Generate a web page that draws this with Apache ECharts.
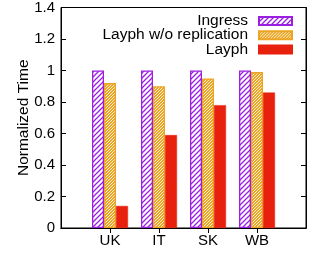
<!DOCTYPE html>
<html>
<head>
<meta charset="UTF-8">
<title>normalized time</title>
<style>html,body{margin:0;padding:0;background:#fff;}</style>
</head>
<body>
<div id="chart" style="width:316px;height:259px"></div>
<script src="https://cdn.jsdelivr.net/npm/echarts@6/dist/echarts.min.js"></script>
<script>
// data
var categories = ['', 'UK', 'IT', 'SK', 'WB', ''];
var ingress = ['-', 1, 1, 1, 1, '-'];
var noRepl = ['-', 0.92, 0.90, 0.95, 0.99, '-'];
var layph = ['-', 0.14, 0.59, 0.78, 0.86, '-'];
var yTicks = [0, 0.2, 0.4, 0.6, 0.8, 1, 1.2, 1.4];

// hatch patterns drawn on small canvases
function hatch() {
	var c = document.createElement('canvas');
	c.width = 5; c.height = 5;
	var g = c.getContext('2d');
	g.fillStyle = '#fff';
	g.fillRect(0, 0, 5, 5);
	g.strokeStyle = '#9b1fe0';
	g.lineWidth = 1.3;
	g.beginPath();
	g.moveTo(-1, 6); g.lineTo(6, -1);
	g.moveTo(-1, 1); g.lineTo(1, -1);
	g.moveTo(4, 6); g.lineTo(6, 4);
	g.stroke();
	return c;
}
function checker() {
	var c = document.createElement('canvas');
	c.width = 3; c.height = 3;
	var g = c.getContext('2d');
	g.fillStyle = '#eba522';
	g.fillRect(0, 0, 3, 3);
	g.fillStyle = '#fdf3dc';
	g.fillRect(0, 0, 1, 1);
	g.fillRect(2, 1, 1, 1);
	g.fillRect(1, 2, 1, 1);
	return c;
}

// only the real categories get tick marks
function realTick(i) { return i >= 1 && i <= 4; }

var font = 'Liberation Sans';
var chart = echarts.init(document.getElementById('chart'));
var option = {
	animation: false,
	textStyle: { fontFamily: font },
	grid: { left: 61, right: 10, top: 7, bottom: 31, show: true, borderColor: '#000', borderWidth: 1 },
	legend: {
		orient: 'vertical',
		right: 18,
		top: 8,
		align: 'right',
		icon: 'rect',
		itemWidth: 33,
		itemHeight: 8,
		itemGap: -1.8,
		textStyle: { fontSize: 15.5, color: '#000', fontFamily: font, padding: [0, 6, 0, 0] },
		data: ['Ingress', 'Layph w/o replication', 'Layph']
	},
	xAxis: [{
		type: 'category',
		data: categories,
		boundaryGap: false,
		axisLine: { lineStyle: { color: '#000' } },
		axisTick: { show: true, inside: true, length: 5, interval: realTick, lineStyle: { color: '#000' } },
		axisLabel: { color: '#000', fontSize: 15, margin: 5 }
	}, {
		type: 'category',
		data: categories,
		position: 'top',
		boundaryGap: false,
		axisLine: { lineStyle: { color: '#000' } },
		axisTick: { show: true, inside: true, length: 5, interval: realTick, lineStyle: { color: '#000' } },
		axisLabel: { show: false }
	}],
	yAxis: [{
		type: 'value',
		min: 0, max: 1.4, interval: 0.2,
		name: 'Normalized Time',
		nameLocation: 'middle',
		nameGap: 29,
		nameMoveOverlap: false,
		nameTextStyle: { color: '#000', fontSize: 15.5, fontFamily: font },
		axisLine: { show: true, lineStyle: { color: '#000' } },
		axisTick: { show: true, inside: true, length: 5, lineStyle: { color: '#000' } },
		axisLabel: { color: '#000', fontSize: 15, margin: 6, formatter: function (v) {
			var r = Math.round(v * 10) / 10;
			return yTicks.indexOf(r) >= 0 ? String(r) : '';
		} },
		splitLine: { show: false }
	}, {
		type: 'value',
		min: 0, max: 1.4, interval: 0.2,
		position: 'right',
		axisLine: { show: true, lineStyle: { color: '#000' } },
		axisTick: { show: true, inside: true, length: 5, lineStyle: { color: '#000' } },
		axisLabel: { show: false },
		splitLine: { show: false }
	}],
	series: [{
		name: 'Ingress',
		type: 'bar',
		data: ingress,
		barWidth: 12,
		barGap: '0%',
		itemStyle: { color: { image: hatch(), repeat: 'repeat' }, borderColor: '#9b1fe0', borderWidth: 1.3 }
	}, {
		name: 'Layph w/o replication',
		type: 'bar',
		data: noRepl,
		barWidth: 12,
		barGap: '0%',
		itemStyle: { color: { image: checker(), repeat: 'repeat' }, borderColor: '#eba522', borderWidth: 1.3 }
	}, {
		name: 'Layph',
		type: 'bar',
		data: layph,
		barWidth: 12,
		barGap: '0%',
		itemStyle: { color: '#e8210f', borderColor: '#e8210f', borderWidth: 0.5 }
	}]
};
chart.setOption(option);
</script>
</body>
</html>
